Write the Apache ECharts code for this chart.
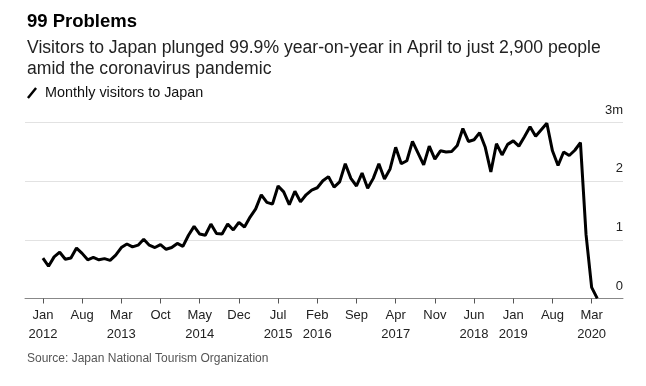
<!DOCTYPE html>
<html>
<head>
<meta charset="utf-8">
<script src="https://cdn.jsdelivr.net/npm/echarts@6/dist/echarts.min.js"></script>
<style>
html,body{margin:0;padding:0;background:#fff;}
#chart{width:646px;height:386px;}
</style>
</head>
<body>
<div id="chart"></div>
<script>
// Monthly visitors to Japan, millions, Jan 2012 .. Apr 2020
var v2012 = [0.69,0.55,0.71,0.79,0.67,0.69,0.86,0.77,0.66,0.70,0.66,0.68];
var v2013 = [0.65,0.74,0.87,0.93,0.88,0.91,1.01,0.91,0.87,0.92,0.84,0.87];
var v2014 = [0.94,0.89,1.08,1.23,1.10,1.08,1.27,1.11,1.10,1.27,1.17,1.30];
var v2015 = [1.22,1.39,1.53,1.77,1.64,1.61,1.92,1.82,1.60,1.83,1.65,1.77];
var v2016 = [1.85,1.89,2.01,2.08,1.90,1.99,2.30,2.05,1.92,2.14,1.88,2.05];
var v2017 = [2.30,2.04,2.21,2.58,2.30,2.35,2.68,2.48,2.28,2.60,2.38,2.52];
var v2018 = [2.50,2.51,2.61,2.90,2.68,2.71,2.83,2.58,2.16,2.64,2.45,2.63];
var v2019 = [2.69,2.60,2.76,2.93,2.77,2.88,2.99,2.52,2.27,2.50,2.44,2.53];
var v2020 = [2.66,1.09,0.19,0.0029];

var tickMonths = [0,7,14,21,28,35,42,49,56,63,70,77,84,91,98];
var tickLabels = ["Jan\n2012","Aug","Mar\n2013","Oct","May\n2014","Dec","Jul\n2015","Feb\n2016","Sep","Apr\n2017","Nov","Jun\n2018","Jan\n2019","Aug","Mar\n2020"];
var yValues = [0,1,2,3];
var yLabels = ["0","1","2","3m"];

var seriesName = "Monthly visitors to Japan";
var allValues = [].concat(v2012,v2013,v2014,v2015,v2016,v2017,v2018,v2019,v2020);
var points = allValues.map(function(v,i){return [i,v];});

var FONT = '"Liberation Sans", Arial, Helvetica, sans-serif';
var chart = echarts.init(document.getElementById('chart'), null, {renderer:'canvas'});
chart.setOption({
  animation:false,
  backgroundColor:'#fff',
  textStyle:{fontFamily:FONT},
  title:[
    {text:'99 Problems', left:22, top:7, textStyle:{fontFamily:FONT, fontSize:18.5, fontWeight:'bold', color:'#000'}},
    {text:'Visitors to Japan plunged 99.9% year-on-year in April to just 2,900 people\namid the coronavirus pandemic', left:22, top:33,
      textStyle:{fontFamily:FONT, fontSize:17.6, fontWeight:'normal', color:'#222', lineHeight:21}},
    {text:'Source: Japan National Tourism Organization', left:22, top:348, textStyle:{fontFamily:FONT, fontSize:12, fontWeight:'normal', color:'#555'}}
  ],
  legend:{
    left:22, top:81, itemWidth:10, itemHeight:12, itemGap:10,
    icon:'path://M0,10.5 L8.5,0 L10.5,1.6 L2,12 Z',
    textStyle:{fontFamily:FONT, fontSize:14.4, color:'#111', padding:[0,0,0,3]},
    data:[seriesName]
  },
  grid:{left:25, right:23, top:122.7, bottom:87.5, containLabel:false},
  xAxis:{
    type:'value', min:-3.2, max:103.6,
    axisLine:{show:true, lineStyle:{color:'#888', width:1}},
    axisTick:{show:true, length:5, customValues:tickMonths, lineStyle:{color:'#555'}},
    axisLabel:{customValues:tickMonths, margin:7, fontSize:13, color:'#222', lineHeight:19, fontFamily:FONT,
      formatter:function(val){var k=tickMonths.indexOf(Math.round(val)); return k>=0?tickLabels[k]:'';}},
    splitLine:{show:false}
  },
  yAxis:{
    type:'value', min:0, max:3, interval:1, position:'right',
    axisLine:{show:false}, axisTick:{show:false},
    axisLabel:{inside:true, margin:0, align:'right', verticalAlign:'bottom', padding:[0,0,6,0], fontSize:13, color:'#222', fontFamily:FONT,
      formatter:function(val){var k=yValues.indexOf(val); return k>=0?yLabels[k]:'';}},
    splitLine:{show:true, lineStyle:{color:'#e2e2e2', width:1}}
  },
  series:[{
    name:seriesName, type:'line', data:points, showSymbol:false, symbol:'none',
    lineStyle:{color:'#000', width:3}, itemStyle:{color:'#000'}
  }]
});
</script>
</body>
</html>
